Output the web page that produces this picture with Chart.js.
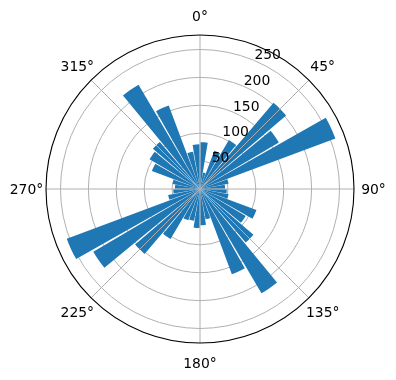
<!DOCTYPE html>
<html>
<head>
<meta charset="utf-8">
<script src="https://cdn.jsdelivr.net/npm/chart.js@4/dist/chart.umd.min.js"></script>
<style>
html,body{margin:0;padding:0;background:#fff;}
#wrap{width:396px;height:380px;}
</style>
</head>
<body>
<div id="wrap"><canvas id="c" width="396" height="380"></canvas></div>
<script>
// ---- data ----
const directions = [5,15,25,35,45,55,65,75,85,95,105,115,125,135,145,155,165,175,
                    185,195,205,215,225,235,245,255,265,275,285,295,305,315,325,335,345,355];
const counts = [84,30,73,102,203,164,259,52,45,48,52,108,95,126,217,163,55,65,
                70,58,60,104,153,222,255,58,48,45,50,92,105,111,217,160,68,80];
const thetaTicks = [0,45,90,135,180,225,270,315];
const thetaLabels = ['0°','45°','90°','135°','180°','225°','270°','315°'];
const rTicks = [50,100,150,200,250];
const rTickLabels = ['50','100','150','200','250'];
const R_MAX = 276;
const BAR_WIDTH = 9;          // degrees
const R_LABEL_ANGLE = 22.5;   // degrees

// ---- build contiguous polar-area segments (bars + transparent gaps) ----
const segValues = [], segAngles = [], segColors = [], segLabels = [];
let cur = 0;
directions.forEach((d, i) => {
  const start = d - BAR_WIDTH / 2;
  if (start > cur) { segValues.push(0); segAngles.push(start - cur); segColors.push('rgba(0,0,0,0)'); segLabels.push(''); }
  segValues.push(counts[i]); segAngles.push(BAR_WIDTH); segColors.push('#1f77b4'); segLabels.push(d + '°');
  cur = start + BAR_WIDTH;
});
if (cur < 360) { segValues.push(0); segAngles.push(360 - cur); segColors.push('rgba(0,0,0,0)'); segLabels.push(''); }

const FONT = '13.9px "DejaVu Sans", sans-serif';

const decor = {
  id: 'decor',
  afterDraw(chart) {
    const s = chart.scales.r;
    const ctx = chart.ctx;
    const cx = s.xCenter, cy = s.yCenter, R = s.drawingArea;
    ctx.save();
    // angle grid lines
    ctx.strokeStyle = '#b0b0b0';
    ctx.lineWidth = 1;
    thetaTicks.forEach(t => {
      const a = t * Math.PI / 180;
      ctx.beginPath();
      ctx.moveTo(cx, cy);
      ctx.lineTo(cx + R * Math.sin(a), cy - R * Math.cos(a));
      ctx.stroke();
    });
    // outer spine
    ctx.strokeStyle = '#000';
    ctx.lineWidth = 1.1;
    ctx.beginPath();
    ctx.arc(cx, cy, R, 0, Math.PI * 2);
    ctx.stroke();
    // r tick labels
    ctx.fillStyle = '#000';
    ctx.font = FONT;
    ctx.textAlign = 'left';
    ctx.textBaseline = 'alphabetic';
    const ra = R_LABEL_ANGLE * Math.PI / 180;
    rTicks.forEach((v, i) => {
      const d = s.getDistanceFromCenterForValue(v);
      ctx.fillText(rTickLabels[i], cx + d * Math.sin(ra) + 1, cy - d * Math.cos(ra) - 1);
    });
    // theta labels
    ctx.textAlign = 'center';
    const L = R + 19.5;
    thetaTicks.forEach((t, i) => {
      const a = t * Math.PI / 180;
      ctx.fillText(thetaLabels[i], cx + L * Math.sin(a), cy - L * Math.cos(a) + 5);
    });
    ctx.restore();
  }
};

new Chart(document.getElementById('c'), {
  type: 'polarArea',
  data: {
    labels: segLabels,
    datasets: [{
      data: segValues,
      backgroundColor: segColors,
      borderWidth: 0,
      angle: (c) => segAngles[c.dataIndex]
    }]
  },
  options: {
    responsive: false,
    animation: false,
    devicePixelRatio: 1,
    layout: { padding: { left: 46, right: 42, top: 35, bottom: 37 } },
    plugins: { legend: { display: false }, tooltip: { enabled: false } },
    scales: {
      r: {
        z: 1,
        min: 0,
        max: R_MAX,
        startAngle: 0,
        ticks: { display: false, stepSize: 50 },
        pointLabels: { display: false },
        angleLines: { display: false },
        grid: {
          circular: true,
          lineWidth: 1,
          color: (c) => (c.tick && rTicks.includes(c.tick.value)) ? '#b0b0b0' : 'rgba(0,0,0,0)'
        }
      }
    }
  },
  plugins: [decor]
});
</script>
</body>
</html>
